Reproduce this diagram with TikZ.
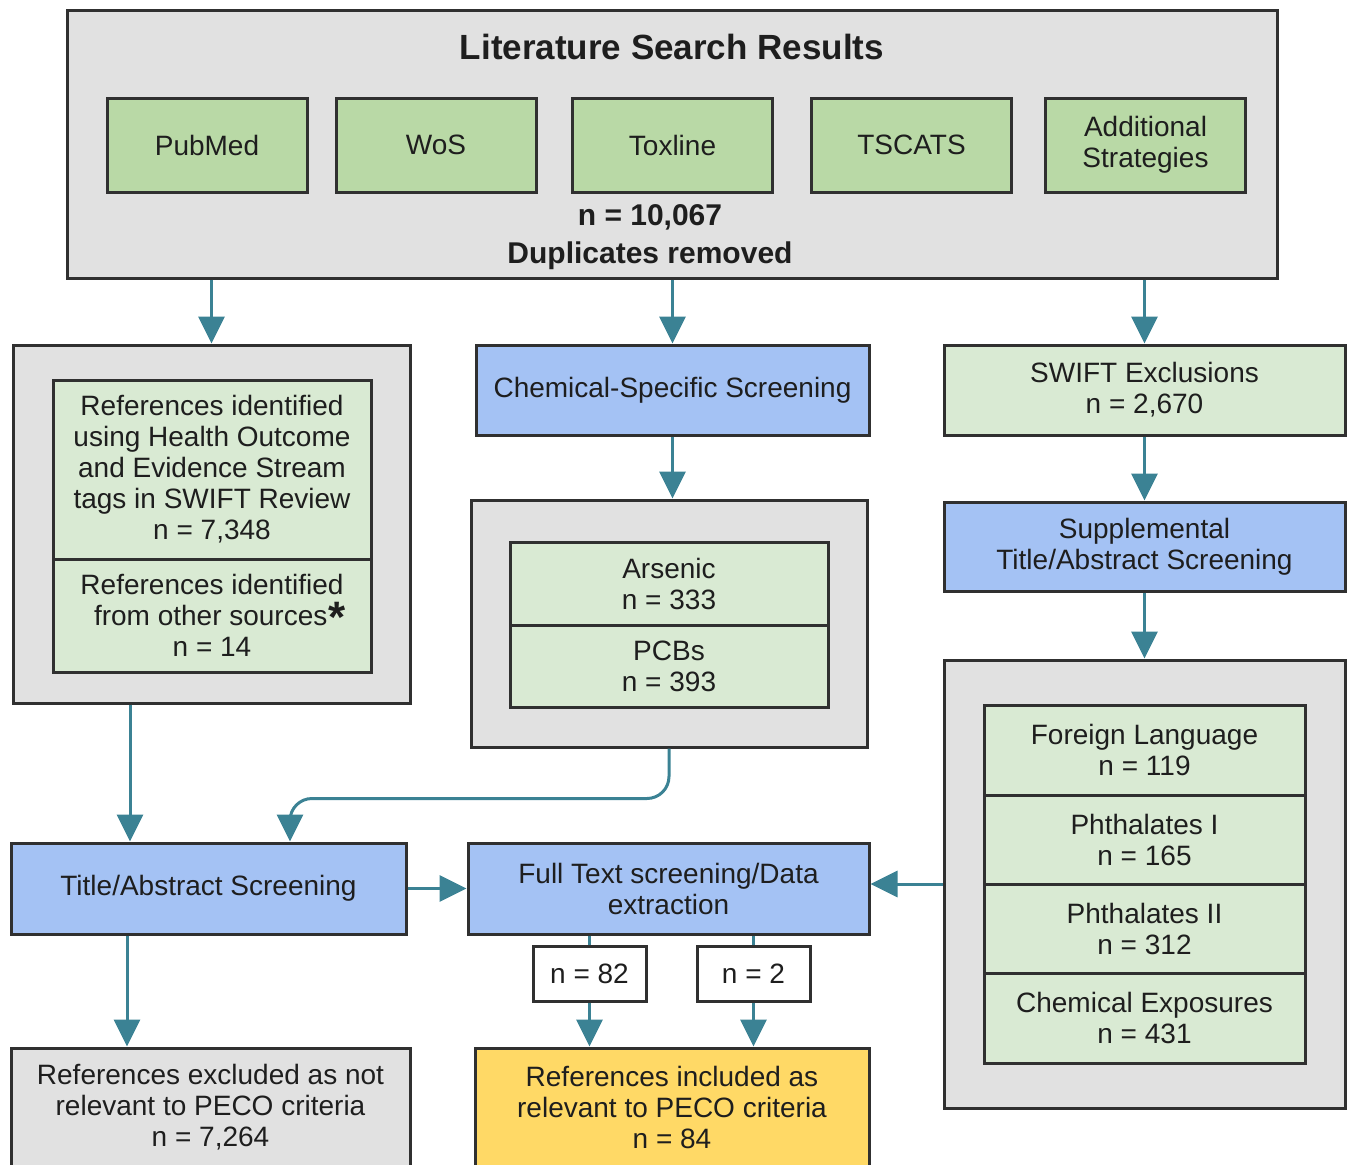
\documentclass[tikz,border=0pt]{standalone}
\usepackage{fontspec}
\setmainfont{Liberation Sans}
\usetikzlibrary{arrows.meta,calc}
\definecolor{grayfill}{HTML}{E1E1E1}
\definecolor{edge}{HTML}{303030}
\definecolor{srcgreen}{HTML}{B9D9A6}
\definecolor{ltgreen}{HTML}{D9EAD3}
\definecolor{bluefill}{HTML}{A4C2F4}
\definecolor{yellowfill}{HTML}{FFD966}
\definecolor{teal}{HTML}{3B8294}
\definecolor{txt}{HTML}{1E1E1E}
\tikzset{
  base/.style={draw=edge, line width=3pt, text=txt, align=center, inner sep=0pt,
    font=\fontsize{28}{31}\selectfont},
  graybox/.style={base, fill=grayfill},
  srcbox/.style={base, fill=srcgreen, minimum width=200pt, minimum height=94pt},
  greenbox/.style={base, fill=ltgreen},
  bluebox/.style={base, fill=bluefill},
  yellowbox/.style={base, fill=yellowfill},
  lblbox/.style={base, fill=white, minimum width=113pt, minimum height=55pt},
  plain/.style={align=center, text=txt, inner sep=0pt},
  conn/.style={draw=teal, line width=3pt},
  arr/.style={conn, -{Triangle[width=26pt,length=27pt]}},
}
\begin{document}
\begin{tikzpicture}[x=1pt,y=-1pt]
\useasboundingbox (0,0) rectangle (1353,1165);
% top box
\node[graybox, minimum width=1210pt, minimum height=268pt] (lit) at (672,144) {};
\node[plain, font=\fontsize{35}{38}\selectfont\bfseries] (title) at (672,47) {Literature Search Results};
\node[srcbox] (pubmed) at (207,145) {PubMed};
\node[srcbox] (wos) at (436,145) {WoS};
\node[srcbox] (toxline) at (672.5,145) {Toxline};
\node[srcbox] (tscats) at (911.5,145) {TSCATS};
\node[srcbox] (addl) at (1145.5,145) {Additional\\Strategies};
\node[plain, font=\fontsize{30}{38}\selectfont\bfseries] (ntot) at (650,237) {n = 10,067\\Duplicates removed};
% left column
\node[graybox, minimum width=397pt, minimum height=358pt] (lo) at (211.5,524) {};
\node[greenbox, minimum width=318pt, minimum height=179pt] (swiftrev) at (212,469.5)
  {References identified\\using Health Outcome\\and Evidence Stream\\tags in SWIFT Review\\n = 7,348};
\node[greenbox, minimum width=318pt, minimum height=113pt] (other) at (212,615.5)
  {References identified\\\ \ from other sources\kern1pt\smash{\fontsize{44}{31}\selectfont\bfseries\raisebox{-7pt}{*}}\\n = 14};
% middle column
\node[bluebox, minimum width=393pt, minimum height=90pt] (chem) at (672.5,390) {Chemical-Specific Screening};
\node[graybox, minimum width=396pt, minimum height=247pt] (mg) at (669,623.5) {};
\node[greenbox, minimum width=318pt, minimum height=83pt] (arsenic) at (669,583.5) {Arsenic\\n = 333};
\node[greenbox, minimum width=318pt, minimum height=82pt] (pcbs) at (669,666) {PCBs\\n = 393};
% right column
\node[greenbox, minimum width=401pt, minimum height=90pt] (swx) at (1144.5,390) {SWIFT Exclusions\\n = 2,670};
\node[bluebox, minimum width=401pt, minimum height=89pt] (supp) at (1144.5,546.5) {Supplemental\\Title/Abstract Screening};
\node[graybox, minimum width=401pt, minimum height=448pt] (rg) at (1144.5,884) {};
\node[greenbox, minimum width=321pt, minimum height=90pt] (fl) at (1144.5,750) {Foreign Language\\n = 119};
\node[greenbox, minimum width=321pt, minimum height=89pt] (p1) at (1144.5,839.5) {Phthalates I\\n = 165};
\node[greenbox, minimum width=321pt, minimum height=89pt] (p2) at (1144.5,928.5) {Phthalates II\\n = 312};
\node[greenbox, minimum width=321pt, minimum height=90pt] (ce) at (1144.5,1018) {Chemical Exposures\\n = 431};
% screening row
\node[bluebox, minimum width=395pt, minimum height=91pt] (ta) at (208.5,888.5) {Title/Abstract Screening};
\node[bluebox, minimum width=401pt, minimum height=91pt] (ft) at (668.5,888.5) {Full Text screening/Data\\extraction};
% bottom row
\node[graybox, minimum width=399pt, minimum height=118pt] (exc) at (210.5,1107)
  {References excluded as not\\relevant to PECO criteria\\n = 7,264};
\node[yellowbox, minimum width=394pt, minimum height=118pt] (inc) at (672,1107)
  {References included as\\relevant to PECO criteria\\n = 84};
\node[lblbox] (n82) at (589.5,973.5) {n = 82};
\node[lblbox] (n2) at (753.5,973.5) {n = 2};
% connectors
\draw[arr] (lit.south -| lo.north) -- (lo.north);
\draw[arr] (lit.south -| chem.north) -- (chem.north);
\draw[arr] (lit.south -| swx.north) -- (swx.north);
\draw[arr] (chem.south) -- (chem.south |- mg.north);
\draw[arr] (swx.south) -- (supp.north);
\draw[arr] (supp.south) -- (rg.north);
\draw[arr] ([xshift=-81.5pt]lo.south) -- ([xshift=-81.5pt]lo.south |- ta.north);
\draw[arr, rounded corners=22pt] (mg.south) -- ++(0,50) -| ([xshift=81.5pt]ta.north);
\draw[arr] (ta.east) -- (ft.west);
\draw[arr] (rg.west) -- (rg.west -| ft.east);
\draw[arr] ([xshift=-81.5pt]ta.south) -- ([xshift=-81.5pt]ta.south |- exc.north);
\draw[conn] (ft.south -| n82) -- (n82.north);
\draw[arr] (n82.south) -- (n82.south |- inc.north);
\draw[conn] (ft.south -| n2) -- (n2.north);
\draw[arr] (n2.south) -- (n2.south |- inc.north);
\end{tikzpicture}
\end{document}
